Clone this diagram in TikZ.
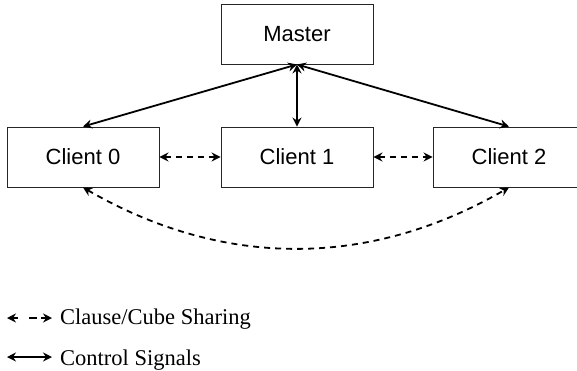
\documentclass[tikz,border=0pt]{standalone}
\usepackage{fontspec}
\setmainfont{Liberation Serif}
\newfontfamily\helv{Liberation Sans}
\usetikzlibrary{arrows.meta}
\begin{document}
\begin{tikzpicture}[x=1pt,y=-1pt,
  box/.style={draw=black!85, line width=0.9pt, minimum width=152pt, minimum height=60pt,
              inner sep=0pt, font=\helv\fontsize{22}{25}\selectfont},
  tipend/.style={-{Stealth[length=9pt,width=9pt,inset=3pt]}},
  ctrl/.style={line width=1.8pt, {Stealth[length=9pt,width=9pt,inset=3pt]}-{Stealth[length=9pt,width=9pt,inset=3pt]}},
  share/.style={ctrl, dash pattern=on 6pt off 5pt},
  legendtext/.style={anchor=base west, inner sep=0pt, font=\fontsize{22.5}{26}\selectfont}]
  \useasboundingbox (0,0) rectangle (577,370);
  \clip (0,0) rectangle (577,370);

  % processes
  \node[box] (master) at (297,34) {Master};
  \node[box] (c0) at (83,157) {Client 0};
  \node[box] (c1) at (297,157) {Client 1};
  \node[box] (c2) at (509,157) {Client 2};

  % control signals
  \draw[ctrl] (master.south) -- (c0.north);
  \draw[ctrl] (master.south) -- (c1.north);
  \draw[ctrl] (master.south) -- (c2.north);

  % clause/cube sharing between clients
  \draw[share] (c0.east) -- (c1.west);
  \draw[share] (c1.east) -- (c2.west);
  \draw[share] (c0.south) .. controls ([xshift=140pt,yshift=-81pt]c0.south)
      and ([xshift=-140pt,yshift=-81pt]c2.south) .. (c2.south);

  % legend: dashed sample built from two heads and one dash
  \coordinate (l1a) at (7,318);  \coordinate (l1s) at (18,318);
  \coordinate (l1c) at (29,318); \coordinate (l1d) at (37,318);
  \coordinate (l1e) at (41,318); \coordinate (l1b) at (52,318);
  \draw[line width=1.8pt, tipend] (l1s) -- (l1a);
  \draw[line width=1.8pt] (l1c) -- (l1d);
  \draw[line width=1.8pt, tipend] (l1e) -- (l1b);
  \coordinate (l2a) at (7,357);  \coordinate (l2b) at (52,357);
  \draw[ctrl] (l2a) -- (l2b);
  \node[legendtext] (t1) at (60,324) {Clause/Cube Sharing};
  \node[legendtext] (t2) at (60,365) {Control Signals};
\end{tikzpicture}
\end{document}
